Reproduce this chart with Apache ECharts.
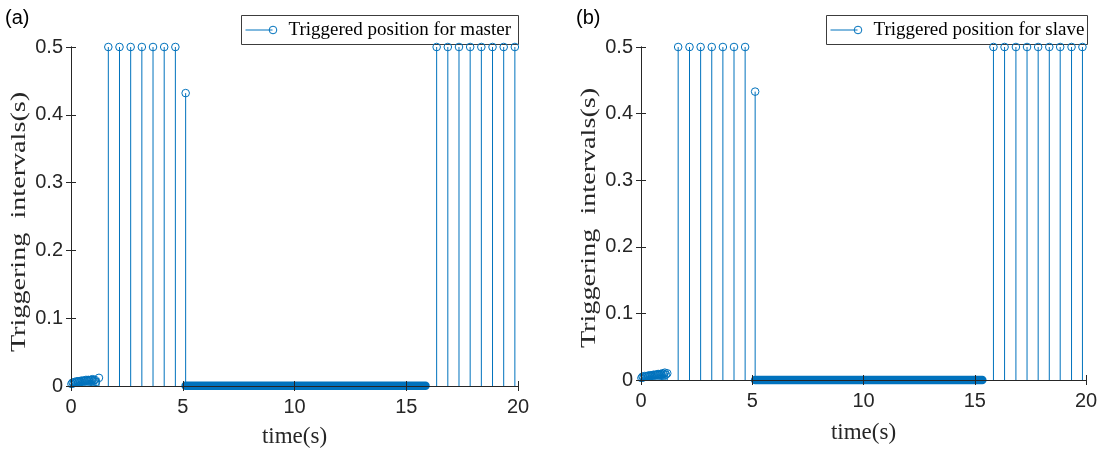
<!DOCTYPE html>
<html>
<head>
<meta charset="utf-8">
<script src="https://cdn.jsdelivr.net/npm/echarts@6/dist/echarts.min.js"></script>
<style>
  html, body { margin: 0; padding: 0; background: #fff; }
  #chart { width: 1107px; height: 453px; }
</style>
</head>
<body>
<div id="chart"></div>
<script>
// (a) master
var masterStemT = [1.67, 2.17, 2.67, 3.17, 3.67, 4.17, 4.67, 5.13, 16.36, 16.86, 17.36, 17.86, 18.36, 18.86, 19.36, 19.86]
var masterStemV = [0.5, 0.5, 0.5, 0.5, 0.5, 0.5, 0.5, 0.432, 0.5, 0.5, 0.5, 0.5, 0.5, 0.5, 0.5, 0.5]
var masterEarlyT = [0.02, 0.07, 0.12, 0.17, 0.22, 0.27, 0.32, 0.37, 0.42, 0.47, 0.52, 0.57, 0.62, 0.67, 0.72, 0.77, 0.82, 0.87, 0.92, 0.97, 1.02, 1.07, 1.12, 1.25]
var masterEarlyV = [0.003, 0.005, 0.004, 0.006, 0.005, 0.007, 0.006, 0.007, 0.006, 0.008, 0.007, 0.008, 0.007, 0.009, 0.008, 0.009, 0.008, 0.009, 0.009, 0.01, 0.008, 0.009, 0.006, 0.012]
var masterDenseT = [5.13, 15.86]
var masterDenseV = [0.0004, 0.0004]

// (b) slave
var slaveStemT = [1.67, 2.18, 2.68, 3.18, 3.68, 4.18, 4.68, 5.13, 15.84, 16.34, 16.85, 17.35, 17.85, 18.35, 18.84, 19.35, 19.84]
var slaveStemV = [0.5, 0.5, 0.5, 0.5, 0.5, 0.5, 0.5, 0.433, 0.5, 0.5, 0.5, 0.5, 0.5, 0.5, 0.5, 0.5, 0.5]
var slaveEarlyT = [0.02, 0.07, 0.12, 0.17, 0.22, 0.27, 0.32, 0.37, 0.42, 0.47, 0.52, 0.57, 0.62, 0.67, 0.72, 0.77, 0.82, 0.87, 0.92, 0.97, 1.02, 1.07, 1.12, 1.18]
var slaveEarlyV = [0.003, 0.005, 0.004, 0.006, 0.005, 0.006, 0.006, 0.007, 0.006, 0.007, 0.007, 0.008, 0.007, 0.008, 0.008, 0.009, 0.008, 0.009, 0.008, 0.01, 0.009, 0.011, 0.008, 0.01]
var slaveDenseT = [5.13, 15.34]
var slaveDenseV = [0, 0]

var xTicks = { min: 0, max: 20, interval: 5 }
var yTicks = { min: 0, max: 0.5, interval: 0.1 }

var BLUE = '#0072BD'
var AXIS = '#262626'
var SERIF = 'Liberation Serif, Times New Roman, serif'
var SANS = 'Liberation Sans, Arial, sans-serif'

function pairs (ts, vs) {
  return ts.map(function (t, i) { return [t, vs[i]] })
}

function stemItem (params, api) {
  var top = api.coord([api.value(0), api.value(1)])
  var base = api.coord([api.value(0), 0])
  return {
    type: 'group',
    children: [
      { type: 'line', shape: { x1: base[0], y1: base[1], x2: top[0], y2: top[1] }, style: { stroke: BLUE, lineWidth: 1 } },
      { type: 'circle', shape: { cx: top[0], cy: top[1], r: 3.8 }, style: { stroke: BLUE, fill: 'none', lineWidth: 1 } }
    ]
  }
}

function xAxes (grid, nameGap) {
  return [{
    gridIndex: grid,
    type: 'value',
    position: 'bottom',
    min: xTicks.min,
    max: xTicks.max,
    interval: xTicks.interval,
    z: 5,
    name: 'time(s)',
    nameLocation: 'middle',
    nameGap: nameGap,
    nameTextStyle: { fontFamily: SERIF, fontSize: 23, color: AXIS },
    axisLine: { lineStyle: { color: AXIS, width: 1 } },
    axisTick: { inside: true, length: 5, lineStyle: { color: AXIS } },
    axisLabel: { fontFamily: SANS, fontSize: 20, color: AXIS, margin: 11 },
    splitLine: { show: false }
  }, {
    gridIndex: grid,
    type: 'value',
    position: 'top',
    min: xTicks.min,
    max: xTicks.max,
    interval: xTicks.interval,
    z: 5,
    axisLine: { lineStyle: { color: AXIS, width: 1 } },
    axisTick: { inside: true, length: 5, lineStyle: { color: AXIS } },
    axisLabel: { show: false },
    splitLine: { show: false }
  }]
}

function yAxes (grid) {
  return [{
    gridIndex: grid,
    type: 'value',
    position: 'left',
    min: yTicks.min,
    max: yTicks.max,
    interval: yTicks.interval,
    z: 5,
    axisLine: { show: true, lineStyle: { color: AXIS, width: 1 } },
    axisTick: { show: true, inside: true, length: 5, lineStyle: { color: AXIS } },
    axisLabel: { fontFamily: SANS, fontSize: 20, color: AXIS, margin: 8 },
    splitLine: { show: false }
  }, {
    gridIndex: grid,
    type: 'value',
    position: 'right',
    min: yTicks.min,
    max: yTicks.max,
    interval: yTicks.interval,
    z: 5,
    axisLine: { show: true, lineStyle: { color: AXIS, width: 1 } },
    axisTick: { show: true, inside: true, length: 5, lineStyle: { color: AXIS } },
    axisLabel: { show: false },
    splitLine: { show: false }
  }]
}

// y label is drawn a bit stretched along its length, like the exported figure
function yName (x, y) {
  return {
    type: 'text',
    x: x,
    y: y,
    rotation: Math.PI / 2,
    scaleX: 1.28,
    style: { text: 'Triggering  intervals(s)', fontFamily: SERIF, fontSize: 22, fill: AXIS, align: 'center', verticalAlign: 'middle' }
  }
}

function legendBox (x, y, w, text) {
  return {
    type: 'group',
    left: x,
    top: y,
    children: [
      { type: 'rect', shape: { x: 0, y: 0, width: w, height: 29 }, style: { fill: '#fff', stroke: '#3c3c3c', lineWidth: 1 } },
      { type: 'line', shape: { x1: 4, y1: 14.5, x2: 31, y2: 14.5 }, style: { stroke: BLUE, lineWidth: 1 } },
      { type: 'circle', shape: { cx: 31.5, cy: 14.5, r: 3.8 }, style: { stroke: BLUE, fill: 'none', lineWidth: 1 } },
      { type: 'text', x: 47, y: 15, style: { text: text, fontFamily: SERIF, fontSize: 19, fill: '#000', verticalAlign: 'middle' } }
    ]
  }
}

function bandSeries (xi, ts, vs) {
  return {
    type: 'line',
    xAxisIndex: xi,
    yAxisIndex: xi,
    data: pairs(ts, vs),
    symbol: 'none',
    clip: false,
    z: 3,
    lineStyle: { color: BLUE, width: 8.5, cap: 'round' }
  }
}

var myChart = echarts.init(document.getElementById('chart'))
var option = {
  animation: false,
  backgroundColor: '#fff',
  grid: [
    { left: 71, top: 47, width: 447, height: 340 },
    { left: 641, top: 47, width: 445, height: 333 }
  ],
  xAxis: xAxes(0, 39).concat(xAxes(1, 41)),
  yAxis: yAxes(0).concat(yAxes(1)),
  series: [
    { type: 'custom', xAxisIndex: 0, yAxisIndex: 0, renderItem: stemItem, data: pairs(masterEarlyT, masterEarlyV), z: 3 },
    bandSeries(0, masterDenseT, masterDenseV),
    { type: 'custom', xAxisIndex: 0, yAxisIndex: 0, renderItem: stemItem, data: pairs(masterStemT, masterStemV), z: 3 },
    { type: 'custom', xAxisIndex: 2, yAxisIndex: 2, renderItem: stemItem, data: pairs(slaveEarlyT, slaveEarlyV), z: 3 },
    bandSeries(2, slaveDenseT, slaveDenseV),
    { type: 'custom', xAxisIndex: 2, yAxisIndex: 2, renderItem: stemItem, data: pairs(slaveStemT, slaveStemV), z: 3 }
  ],
  graphic: [
    { type: 'text', left: 5, top: 8, style: { text: '(a)', fontFamily: SANS, fontSize: 20, fill: '#000' } },
    { type: 'text', left: 576, top: 8, style: { text: '(b)', fontFamily: SANS, fontSize: 20, fill: '#000' } },
    yName(19, 222),
    yName(589, 218),
    legendBox(241, 15, 277, 'Triggered position for master'),
    legendBox(826, 15, 261, 'Triggered position for slave')
  ]
}
myChart.setOption(option)
</script>
</body>
</html>
